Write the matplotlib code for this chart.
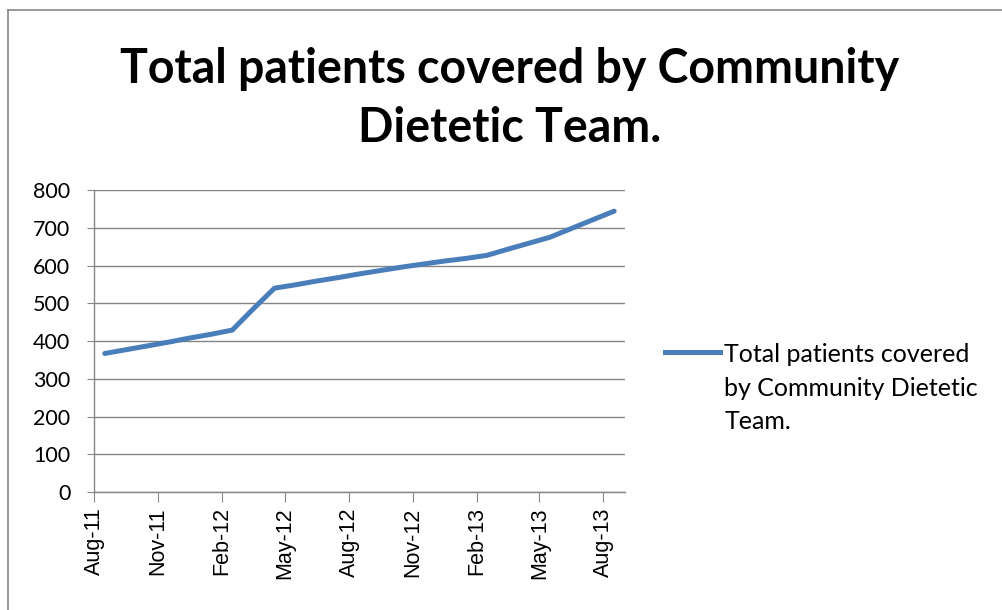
import numpy as np
import pandas as pd
import matplotlib
matplotlib.use("Agg")
import matplotlib.pyplot as plt
import matplotlib.dates as mdates
from matplotlib.lines import Line2D

# monthly totals, Aug 2011 .. Aug 2013
months = pd.date_range("2011-08-01", "2013-08-01", freq="MS")
patients = [367, 377, 387, 397, 408, 418, 429, 485, 540, 549, 559, 568, 578,
            587, 596, 604, 612, 619, 627, 643, 659, 675, 698, 721, 744]
tick_months = pd.date_range("2011-08-01", "2013-08-01", freq="3MS")
y_ticks = [0, 100, 200, 300, 400, 500, 600, 700, 800]
title = "Total patients covered by Community\nDietetic Team."
series_name = "Total patients covered\nby Community Dietetic\nTeam."

# excel puts each point in the middle of its month
next_months = months + pd.offsets.MonthBegin(1)
x_mid = months + (next_months - months) / 2

plt.rcParams['font.family'] = ['Lato', 'DejaVu Sans']

fig = plt.figure(figsize=(10.03, 6.10), dpi=100)
ax = fig.add_axes([0.0937, 0.1934, 0.5294, 0.4951])

grid_col = "#868686"
line_col = "#4A7EBB"

ax.plot(x_mid, patients, color=line_col, lw=3.6, solid_capstyle="round", zorder=3)

ax.set_ylim(0, 800)
ax.set_yticks(y_ticks)
ax.set_xlim(months[0], next_months[-1])
ax.set_xticks(tick_months)
ax.xaxis.set_major_formatter(mdates.DateFormatter("%b-%y"))

ax.yaxis.grid(True, color=grid_col, lw=1)
ax.set_axisbelow(True)
for s in ["top", "right"]:
    ax.spines[s].set_visible(False)
for s in ["left", "bottom"]:
    ax.spines[s].set_color(grid_col)
    ax.spines[s].set_linewidth(1)

ax.tick_params(axis="y", length=5, color=grid_col, labelsize=15.5, pad=12)
ax.tick_params(axis="x", length=7, color=grid_col, labelsize=15.5, pad=4)
for lab in ax.get_xticklabels():
    lab.set_rotation(90)
    lab.set_family(['Liberation Sans', 'DejaVu Sans'])

fig.text(0.508, 0.838, title, ha="center", va="center", fontsize=33.5,
         fontweight="bold", linespacing=1.42)

# legend drawn by hand: excel aligns the key with the first text line
fig.add_artist(Line2D([0.663, 0.718], [0.423, 0.423], color=line_col, lw=3.6,
                      transform=fig.transFigure))
fig.text(0.722, 0.437, series_name, ha="left", va="top", fontsize=18,
         linespacing=1.55)

# chart-area border (top and left edges show in the crop)
fig.add_artist(Line2D([0.008, 0.008], [0, 0.984], color=grid_col, lw=1.2,
                      transform=fig.transFigure))
fig.add_artist(Line2D([0.008, 1], [0.984, 0.984], color=grid_col, lw=1.2,
                      transform=fig.transFigure))

fig.savefig("out.png", dpi=100)
